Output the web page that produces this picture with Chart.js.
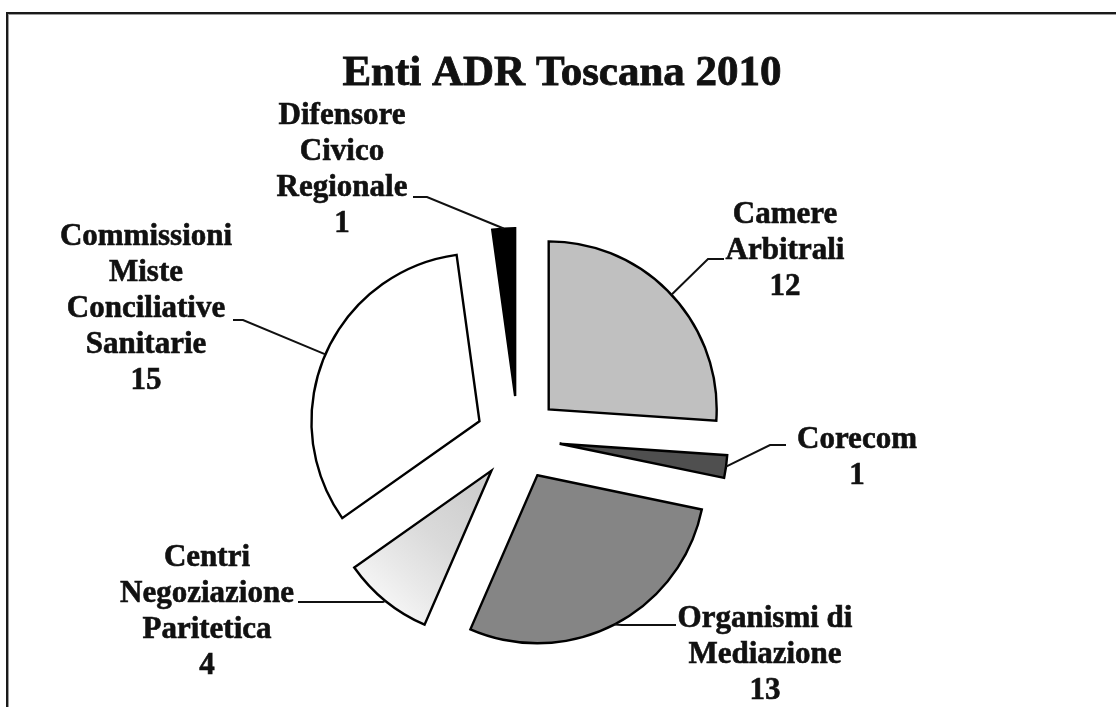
<!DOCTYPE html>
<html>
<head>
<meta charset="utf-8">
<title>Enti ADR Toscana 2010</title>
<script src="https://cdn.jsdelivr.net/npm/chart.js@4.4.1/dist/chart.umd.min.js"></script>
<style>
  html, body { margin: 0; padding: 0; background: #ffffff; overflow: hidden; }
  #wrap { position: relative; width: 1116px; height: 707px; }
  #wrap canvas { position: absolute; left: 0; top: 0; }
  #frame {
    position: absolute; left: 6px; top: 12px; width: 1200px; height: 800px;
    border-top: 2px solid #1a1a1a; border-left: 2px solid #1a1a1a;
    box-shadow: inset 1px 1px 0 #9c9c9c; pointer-events: none;
  }
</style>
</head>
<body>
<div id="wrap">
  <canvas id="chart" width="1116" height="707"></canvas>
  <div id="frame"></div>
</div>
<script>
// ---- data ----
const titleText = 'Enti ADR Toscana 2010';
const categories = [
  ['Camere', 'Arbitrali'],
  ['Corecom'],
  ['Organismi di', 'Mediazione'],
  ['Centri', 'Negoziazione', 'Paritetica'],
  ['Commissioni', 'Miste', 'Conciliative', 'Sanitarie'],
  ['Difensore', 'Civico', 'Regionale']
];
const values = [12, 1, 13, 4, 15, 1];

// ---- styling ----
const sliceColors = ['#c0c0c0', '#4f4f4f', '#858585', 'marble', '#ffffff', '#000000'];
const labelFont = 'bold 31px "Liberation Serif", "Times New Roman", serif';
const titleFont = 'bold 43px "Liberation Serif", "Times New Roman", serif';
const lineGap = 36;
// callout text block (centre x, first baseline) and leader elbow / end
const calloutLayout = [
  { cx: 785, top: 223, elbow: [708, 259], edge: 724 },
  { cx: 857, top: 448, elbow: [770, 445], edge: 786 },
  { cx: 765, top: 627, elbow: [622, 625], edge: 676 },
  { cx: 207, top: 566, elbow: [383, 602], edge: 298 },
  { cx: 146, top: 245, elbow: [243, 320], edge: 233 },
  { cx: 342, top: 124, elbow: [427, 197], edge: 413 }
];

// Wedge that is pushed out along its bisector without being enlarged.
class ExplodedArc extends Chart.ArcElement {
  draw(ctx) {
    const o = this.options;
    const { x, y, startAngle, endAngle, outerRadius } = this;
    const mid = (startAngle + endAngle) / 2;
    const shift = o.offset || 0;
    ctx.save();
    ctx.translate(Math.cos(mid) * shift, Math.sin(mid) * shift);
    ctx.beginPath();
    ctx.moveTo(x, y);
    ctx.arc(x, y, outerRadius, startAngle, endAngle);
    ctx.closePath();
    ctx.fillStyle = o.backgroundColor;
    ctx.fill();
    ctx.lineWidth = o.borderWidth;
    ctx.strokeStyle = o.borderColor;
    ctx.lineJoin = 'miter';
    ctx.stroke();
    ctx.restore();
  }
}
ExplodedArc.id = 'explodedArc';
ExplodedArc.defaults = Object.assign({}, Chart.ArcElement.defaults);
ExplodedArc.defaultRoutes = Chart.ArcElement.defaultRoutes;
Chart.register(ExplodedArc);

class ExplodedPie extends Chart.PieController {}
ExplodedPie.id = 'explodedPie';
ExplodedPie.defaults = { dataElementType: 'explodedArc' };
Chart.register(ExplodedPie);

function sliceFill(context) {
  const c = sliceColors[context.dataIndex];
  if (c !== 'marble') return c;
  const area = context.chart.chartArea;
  if (!area) return '#e2e2e2';
  const cx = (area.left + area.right) / 2;
  const cy = (area.top + area.bottom) / 2;
  const g = context.chart.ctx.createLinearGradient(cx - 20, cy + 10, cx - 150, cy + 150);
  g.addColorStop(0.0, '#cdcdcd');
  g.addColorStop(0.35, '#dadada');
  g.addColorStop(0.6, '#e9e9e9');
  g.addColorStop(0.78, '#f5f5f5');
  g.addColorStop(0.86, '#d6d6d6');
  g.addColorStop(0.93, '#eeeeee');
  g.addColorStop(1.0, '#f7f7f7');
  return g;
}

// text drawn with a hairline outline for a heavier print look
function heavyText(ctx, t, x, y) {
  ctx.fillText(t, x, y);
  ctx.strokeText(t, x, y);
}

const callouts = {
  id: 'callouts',
  afterDatasetsDraw(chart) {
    const ctx = chart.ctx;
    const arcs = chart.getDatasetMeta(0).data;
    ctx.save();
    ctx.fillStyle = '#111111';
    ctx.strokeStyle = '#111111';
    ctx.textAlign = 'center';
    ctx.textBaseline = 'alphabetic';
    ctx.font = labelFont;
    arcs.forEach((arc, i) => {
      const p = arc.getProps(['x', 'y', 'startAngle', 'endAngle', 'outerRadius'], true);
      const mid = (p.startAngle + p.endAngle) / 2;
      const r = p.outerRadius + (arc.options.offset || 0);
      const ax = p.x + Math.cos(mid) * r;
      const ay = p.y + Math.sin(mid) * r;
      const L = calloutLayout[i];
      ctx.lineWidth = 2;
      ctx.beginPath();
      ctx.moveTo(ax, ay);
      ctx.lineTo(L.elbow[0], L.elbow[1]);
      ctx.lineTo(L.edge, L.elbow[1]);
      ctx.stroke();
      ctx.lineWidth = 0.6;
      const lines = categories[i].concat([String(values[i])]);
      lines.forEach((t, k) => heavyText(ctx, t, L.cx, L.top + k * lineGap));
    });
    ctx.font = titleFont;
    ctx.lineWidth = 0.8;
    heavyText(ctx, titleText, 562, 85);
    ctx.restore();
  }
};

new Chart(document.getElementById('chart'), {
  type: 'explodedPie',
  data: {
    labels: categories.map(c => c.join(' ')),
    datasets: [{
      data: values,
      backgroundColor: sliceFill,
      borderColor: '#000000',
      borderWidth: 2.4,
      offset: 42,
      radius: 168
    }]
  },
  options: {
    responsive: false,
    animation: false,
    events: [],
    layout: { padding: { left: 0, right: 80, top: 169, bottom: 0 } },
    plugins: {
      legend: { display: false },
      title: { display: false },
      tooltip: { enabled: false }
    }
  },
  plugins: [callouts]
});
</script>
</body>
</html>
